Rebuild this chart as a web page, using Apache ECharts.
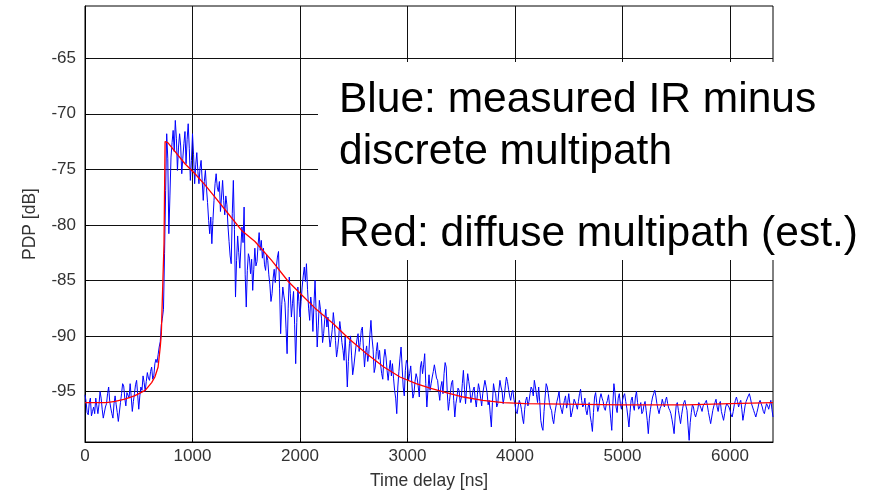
<!DOCTYPE html>
<html>
<head>
<meta charset="utf-8">
<script src="https://cdn.jsdelivr.net/npm/echarts@6/dist/echarts.min.js"></script>
<style>
html,body{margin:0;padding:0;background:#fff;}
#chart{width:876px;height:496px;}
</style>
</head>
<body>
<div id="chart"></div>
<script>
// x tick labels (ns) and y tick labels (dB)
const xTicks = [0, 1000, 2000, 3000, 4000, 5000, 6000];
const yTicks = [-95, -90, -85, -80, -75, -70, -65];

// Blue: measured IR minus discrete multipath, sampled every 10 ns from 0 ns
const blueStartNs = 0;
const blueStepNs = 10;
const blueDb = [
  -95.3,-95.9,-96.9,-97.1,-96.0,-95.6,-97.2,-96.8,-96.4,-97.0,-95.6,-96.3,-97.0,-96.2,-95.0,-95.6,-96.6,-97.4,-97.3,-96.4,
  -96.1,-95.2,-94.6,-95.9,-96.5,-97.0,-97.4,-96.1,-95.4,-96.2,-96.9,-97.7,-97.6,-96.0,-95.2,-94.3,-94.5,-95.6,-96.3,-95.1,
  -95.0,-95.6,-94.3,-95.5,-96.8,-95.9,-95.2,-94.4,-94.0,-95.3,-96.6,-95.4,-94.6,-94.9,-93.6,-94.2,-95.0,-94.1,-93.3,-93.8,
  -94.0,-93.2,-92.8,-93.9,-93.6,-92.5,-92.1,-92.4,-91.7,-91.0,-90.5,-89.0,-88.4,-87.6,-82.6,-76.9,-71.8,-74.0,-80.8,-77.4,
  -73.9,-72.6,-71.5,-73.4,-70.6,-72.2,-75.1,-73.0,-71.8,-72.9,-75.4,-74.0,-72.7,-71.6,-74.5,-72.3,-70.9,-73.1,-76.0,-74.2,
  -71.8,-73.7,-76.3,-74.6,-73.5,-75.2,-76.3,-74.9,-74.2,-76.0,-77.8,-76.1,-75.1,-76.7,-78.0,-79.6,-80.8,-79.3,-81.7,-79.6,
  -77.8,-76.3,-75.4,-76.6,-77.0,-76.1,-78.8,-77.5,-76.0,-77.8,-79.1,-77.4,-78.2,-80.1,-81.5,-82.8,-83.5,-79.0,-76.0,-80.4,
  -86.5,-83.2,-81.0,-82.5,-83.9,-82.0,-80.2,-81.6,-78.4,-84.5,-87.4,-84.1,-82.6,-83.0,-84.4,-83.1,-85.9,-84.0,-82.1,-83.7,
  -83.3,-81.8,-80.7,-82.3,-81.4,-83.0,-82.1,-83.6,-84.1,-82.7,-83.2,-84.5,-85.4,-86.9,-86.2,-84.8,-84.0,-85.2,-83.8,-82.9,
  -82.4,-85.7,-89.8,-87.2,-85.6,-86.4,-87.0,-89.3,-91.6,-87.5,-84.7,-86.2,-88.3,-87.1,-86.0,-89.0,-92.5,-88.8,-85.6,-86.9,
  -88.3,-86.9,-85.6,-84.6,-83.8,-85.1,-83.5,-85.8,-87.5,-88.6,-86.5,-87.4,-89.6,-87.1,-85.0,-87.9,-91.0,-89.1,-86.8,-87.6,
  -88.4,-90.6,-89.8,-88.5,-87.6,-89.2,-88.3,-90.0,-91.0,-90.3,-89.4,-87.9,-88.9,-90.4,-91.9,-91.2,-90.2,-88.7,-89.5,-90.6,
  -91.3,-92.2,-90.1,-92.0,-94.6,-92.3,-90.7,-90.0,-91.8,-93.5,-92.8,-91.9,-91.0,-90.3,-89.8,-91.4,-90.6,-89.5,-89.2,-91.1,
  -92.8,-91.5,-90.9,-92.3,-91.6,-89.9,-88.6,-90.2,-91.2,-93.3,-92.8,-91.4,-90.6,-92.1,-91.3,-92.6,-93.4,-93.9,-92.0,-91.2,
  -91.9,-93.1,-94.0,-93.0,-92.2,-93.6,-92.5,-93.8,-94.9,-95.6,-97.0,-94.6,-93.2,-92.0,-91.0,-92.8,-94.6,-95.4,-93.1,-92.2,
  -92.5,-94.0,-93.4,-92.7,-94.2,-95.6,-95.2,-94.1,-93.4,-93.8,-94.6,-95.5,-92.8,-92.3,-93.4,-92.6,-91.6,-94.3,-96.4,-94.9,
  -93.5,-94.9,-94.3,-93.7,-93.2,-92.6,-92.5,-93.8,-94.0,-95.0,-95.8,-94.6,-94.1,-95.2,-93.4,-92.4,-92.8,-95.1,-96.7,-95.9,
  -95.0,-94.2,-94.0,-95.8,-97.3,-96.1,-95.5,-94.7,-94.9,-96.0,-95.6,-94.3,-93.1,-94.8,-96.1,-94.6,-93.4,-94.1,-94.8,-96.0,
  -95.5,-94.9,-94.6,-95.7,-96.4,-95.3,-94.3,-94.8,-95.6,-96.3,-95.2,-94.6,-94.0,-94.5,-95.1,-96.2,-95.8,-97.1,-98.2,-96.0,
  -94.3,-94.9,-95.2,-96.4,-96.1,-94.9,-94.0,-94.6,-95.0,-96.1,-95.5,-94.5,-93.7,-94.1,-94.8,-95.4,-95.8,-95.1,-94.9,-95.7,
  -96.2,-96.8,-97.0,-96.3,-95.8,-96.1,-96.6,-97.4,-97.9,-96.6,-95.8,-95.5,-96.3,-95.9,-95.2,-94.6,-94.8,-95.4,-94.0,-94.6,
  -95.3,-96.0,-94.6,-95.9,-97.6,-98.2,-98.5,-96.8,-95.5,-94.3,-94.6,-95.2,-96.0,-96.5,-96.7,-97.5,-97.9,-97.0,-96.4,-95.9,
  -95.5,-95.0,-96.2,-96.6,-97.0,-96.3,-95.8,-95.4,-96.5,-96.0,-95.2,-96.1,-97.3,-96.9,-96.4,-95.7,-95.8,-96.2,-96.6,-95.9,
  -95.2,-94.8,-95.8,-96.4,-96.2,-95.6,-96.7,-97.1,-96.4,-96.0,-97.2,-97.8,-98.6,-96.9,-95.5,-95.1,-96.0,-96.8,-96.4,-95.6,
  -95.2,-95.6,-95.9,-96.5,-96.7,-96.1,-95.8,-95.3,-96.3,-97.4,-98.5,-96.2,-94.3,-95.1,-96.4,-96.9,-95.6,-95.2,-96.1,-96.6,
  -95.8,-95.4,-95.2,-95.9,-96.5,-97.3,-98.2,-96.9,-95.8,-95.5,-96.3,-96.7,-95.5,-95.0,-96.0,-96.6,-96.4,-96.0,-97.0,-96.8,
  -96.2,-95.9,-96.7,-97.6,-98.8,-97.4,-96.6,-96.0,-95.5,-95.2,-94.9,-95.4,-96.1,-96.6,-97.0,-96.5,-96.3,-95.7,-96.1,-96.4,
  -95.8,-95.5,-96.1,-96.5,-96.7,-97.0,-97.5,-98.1,-98.8,-97.3,-96.2,-96.0,-96.7,-97.3,-97.9,-97.1,-96.5,-96.0,-95.8,-96.3,
  -96.7,-98.1,-99.4,-97.8,-96.9,-96.2,-96.4,-97.0,-97.3,-96.9,-96.6,-96.0,-96.1,-96.5,-96.8,-96.3,-96.4,-96.0,-95.8,-96.3,
  -96.9,-97.4,-97.9,-97.3,-96.7,-96.3,-96.0,-95.7,-96.4,-96.8,-96.1,-95.9,-96.8,-97.2,-97.6,-97.0,-96.4,-96.1,-96.0,-96.4,
  -96.7,-97.1,-97.3,-96.8,-96.2,-95.8,-95.5,-95.9,-96.4,-96.0,-95.8,-96.6,-97.6,-97.0,-96.3,-95.9,-95.8,-95.4,-95.2,-95.6,
  -96.1,-96.4,-96.7,-97.0,-97.3,-96.9,-96.5,-96.0,-95.8,-96.1,-96.4,-96.8,-97.0,-96.5,-96.1,-96.3,-96.6,-96.2,-95.8,-96.6,
  -97.3
];

// Red: diffuse multipath (estimated)
const redNs = [0, 100, 200, 280, 370, 460, 560, 620, 650, 680, 700, 710, 720, 735, 745, 770,
  930, 1023, 1116, 1209, 1333, 1457, 1581, 1736, 1891, 1984, 2140, 2310, 2460, 2620, 2780,
  2930, 3080, 3209, 3360, 3520, 3700, 3890, 4100, 5000, 5600, 6000, 6400];
const redDb = [-96.0, -96.0, -96.0, -95.9, -95.7, -95.4, -94.9, -94.2, -93.7, -92.8, -91.0, -89.8, -86.5, -81.7, -72.5, -72.6,
  -74.5, -75.4, -76.4, -77.5, -79.0, -80.5, -81.5, -83.2, -85.1, -86.0, -87.5, -88.9, -90.3, -91.6, -92.8,
  -93.7, -94.3, -94.7, -95.1, -95.5, -95.8, -96.0, -96.1, -96.2, -96.2, -96.1, -96.0];

const annotLine1 = 'Blue: measured IR minus';
const annotLine2 = 'discrete multipath';
const annotLine3 = 'Red: diffuse multipath (est.)';

const bluePairs = blueDb.map((v, i) => [blueStartNs + i * blueStepNs, v]);
const redPairs = redDb.map((v, i) => [redNs[i], v]);

const FONT = '"Liberation Sans", Arial, sans-serif';
const chart = echarts.init(document.getElementById('chart'), null, {renderer: 'canvas'});
const gridCol = '#111';
const labelCol = '#333';

chart.setOption({
  backgroundColor: '#ffffff',
  animation: false,
  grid: {left: 85, top: 6, right: 103, bottom: 54, show: true, borderColor: '#000', borderWidth: 1, backgroundColor: 'transparent'},
  xAxis: [{
    type: 'value', min: 0, max: 6400,
    name: 'Time delay [ns]', nameLocation: 'middle', nameGap: 39,
    nameTextStyle: {fontFamily: FONT, fontSize: 17.5, color: labelCol, verticalAlign: 'middle'},
    axisLine: {show: true, onZero: false, lineStyle: {color: '#000', width: 1}},
    axisTick: {show: true, inside: true, length: 4, customValues: xTicks, lineStyle: {color: '#000'}},
    axisLabel: {customValues: xTicks, fontFamily: FONT, fontSize: 17, color: labelCol, margin: 6, formatter: v => String(v)},
    splitLine: {show: true, lineStyle: {color: gridCol, width: 1, type: 'solid'}}
  }],
  yAxis: [{
    type: 'value', min: -99.55, max: -60.3,
    name: 'PDP [dB]', nameLocation: 'middle', nameGap: 55, nameRotate: 90,
    nameTextStyle: {fontFamily: FONT, fontSize: 17.5, color: labelCol, verticalAlign: 'middle'},
    axisLine: {show: true, onZero: false, lineStyle: {color: '#000', width: 1}},
    axisTick: {show: true, inside: true, length: 4, customValues: yTicks, lineStyle: {color: '#000'}},
    axisLabel: {customValues: yTicks, fontFamily: FONT, fontSize: 17, color: labelCol, margin: 9, formatter: v => String(v)},
    splitLine: {show: true, lineStyle: {color: gridCol, width: 1, type: 'solid'}}
  }],
  series: [
    {type: 'line', data: bluePairs, showSymbol: false, symbol: 'none', lineStyle: {color: '#0000ff', width: 1}, itemStyle: {color: '#0000ff'}, z: 3},
    {type: 'line', data: redPairs, showSymbol: false, symbol: 'none', lineStyle: {color: '#ff0000', width: 1.3}, itemStyle: {color: '#ff0000'}, z: 4}
  ],
  graphic: [
    {type: 'rect', z: 100, shape: {x: 318, y: 62, width: 560, height: 198}, style: {fill: '#ffffff'}},
    {type: 'text', z: 101, x: 339, y: 100, style: {text: annotLine1, font: '42.5px ' + FONT, fill: '#000', textAlign: 'left', textVerticalAlign: 'middle', align: 'left', verticalAlign: 'middle'}},
    {type: 'text', z: 101, x: 339, y: 152, style: {text: annotLine2, font: '42.5px ' + FONT, fill: '#000', textAlign: 'left', textVerticalAlign: 'middle', align: 'left', verticalAlign: 'middle'}},
    {type: 'text', z: 101, x: 339, y: 234, style: {text: annotLine3, font: '42.5px ' + FONT, fill: '#000', textAlign: 'left', textVerticalAlign: 'middle', align: 'left', verticalAlign: 'middle'}}
  ]
});
</script>
</body>
</html>
